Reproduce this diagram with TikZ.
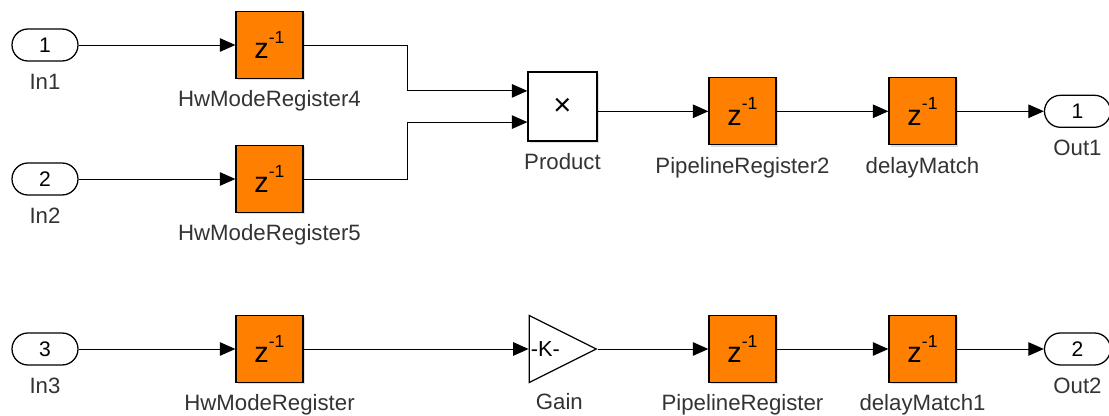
\documentclass[tikz,border=0pt]{standalone}
\usepackage{fontspec}
\setmainfont{Liberation Sans}
\usepackage{xcolor}
\usetikzlibrary{positioning,arrows.meta,shapes.geometric,shadows}

\definecolor{regorange}{RGB}{255,128,0}
\newcommand{\zinv}{{\fontsize{20.5}{20}\selectfont z}\raisebox{1.35ex}{\fontsize{12.5}{12}\selectfont -1}}

\begin{document}
\begin{tikzpicture}[
  ->,
  >={Triangle[length=0.39cm,width=0.34cm]},
  node distance=4.5cm,
  on grid,
  line width=0.7pt,
  font=\fontsize{15.8}{18}\selectfont,
  label distance=5.3pt,
  every label/.style={text=black!80, inner sep=2pt, text height=12pt, text depth=3pt},
  port/.style={
    draw,
    rounded corners=0.4cm,
    minimum width=1.65cm,
    minimum height=0.8cm,
    inner sep=0pt,
    line width=0.9pt,
    font=\fontsize{15}{16}\selectfont
  },
  reg/.style={
    draw,
    fill=regorange,
    minimum size=1.675cm,
    inner sep=0pt,
    line width=0.9pt,
    drop shadow={shadow xshift=0.05cm, shadow yshift=-0.05cm, opacity=0.25}
  },
  prodbox/.style={
    draw,
    fill=white,
    minimum size=1.725cm,
    inner sep=0pt,
    line width=0.9pt,
    font=\fontsize{22}{22}\selectfont,
    drop shadow={shadow xshift=0.05cm, shadow yshift=-0.05cm, opacity=0.25}
  },
  gainbox/.style={
    draw,
    fill=white,
    isosceles triangle,
    isosceles triangle stretches,
    minimum width=1.675cm,
    minimum height=1.675cm,
    inner sep=0pt,
    line width=0.9pt,
    font=\fontsize{15.5}{16}\selectfont
  }
]
\useasboundingbox (0,0) rectangle (27.725,-10.4);

\node[port, label=below:In1] (in1) at (1.125,-1.125) {1};
\node[port, label=below:In2] (in2) [below=3.35cm of in1] {2};
\node[port, label=below:In3] (in3) [below=4.25cm of in2] {3};

\node[reg, label=below:HwModeRegister4] (hwreg4) [right=5.6125cm of in1] {\zinv};
\node[reg, label=below:HwModeRegister5] (hwreg5) [right=5.6125cm of in2] {\zinv};
\node[reg, label=below:HwModeRegister] (hwreg) [right=5.6125cm of in3] {\zinv};

\node[prodbox, label=below:Product] (prod) [below right=1.5375cm and 7.325cm of hwreg4] {×};
\node[gainbox, label={[xshift=0.25cm, yshift=-0.22cm]below:Gain}] (gain) [right=5.625cm of hwreg.east, anchor=west] {\hspace*{-0.2cm}-K-};

\node[reg, label=below:PipelineRegister2] (pipe2) [right=4.5cm of prod, yshift=-0.12cm] {\zinv};
\node[reg, label=below:delayMatch] (match) [right=4.5cm of pipe2] {\zinv};
\node[port, label=below:Out1] (out1) [right=3.875cm of match] {1};

\node[reg, label=below:PipelineRegister] (pipe) [right=11.825cm of hwreg] {\zinv};
\node[reg, label=below:delayMatch1] (match1) [right=4.5cm of pipe] {\zinv};
\node[port, label=below:Out2] (out2) [right=3.875cm of match1] {2};

\coordinate (prodin1) at ([yshift=0.39cm]prod.west);
\coordinate (prodin2) at ([yshift=-0.39cm]prod.west);

\path (in1) edge (hwreg4)
      (in2) edge (hwreg5)
      (in3) edge (hwreg)
      (hwreg.east) edge (gain.west)
      (gain.east) edge (pipe.west |- gain.east)
      (pipe) edge (match1)
      (match1) edge (out2)
      (prod.east |- pipe2) edge (pipe2)
      (pipe2) edge (match)
      (match) edge (out1);
\draw (hwreg4.east) -- ++(2.6,0) |- (prodin1);
\draw (hwreg5.east) -- ++(2.6,0) |- (prodin2);
\end{tikzpicture}
\end{document}
